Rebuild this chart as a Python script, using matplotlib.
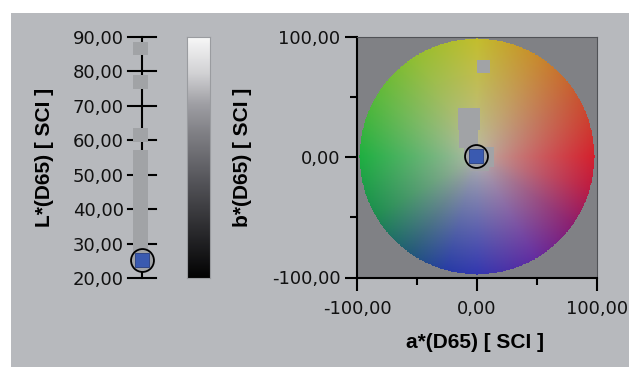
import matplotlib
matplotlib.use('Agg')
import matplotlib.pyplot as plt
import numpy as np
from matplotlib.colors import LinearSegmentedColormap
from matplotlib.patches import Rectangle

W, H = 629, 367

# data
L_ticks = [20, 30, 40, 50, 60, 70, 80, 90]
L_ticklabels = ['20,00', '30,00', '40,00', '50,00', '60,00', '70,00', '80,00', '90,00']
L_bars = [(84.7, 88.5), (74.9, 79.0), (59.5, 63.6), (27.3, 57.2)]
L_sample = 25.2

ab_ticks = [-100, -50, 0, 50, 100]
ab_ticklabels = ['-100,00', '', '0,00', '', '100,00']
wheel_radius = 98
# older samples on the a*b* plane (a0, a1, b0, b1)
ab_patches = [(0, 11, 70, 81), (-16, 2.5, 23, 41), (-15, 0.5, 8, 23),
              (-11, 1, -2, 8), (6, 14, -8, 9), (-6, 10, -11, -4)]
a_sample = -1
b_sample = 1.5

# hue anchors (deg from +a*) and rgb at the rim
hue_deg = [0, 30, 60, 90, 120, 150, 180, 210, 235, 255, 270, 300, 325, 345]
hue_rgb = [(212, 32, 45), (200, 85, 50), (200, 140, 45), (195, 190, 45),
           (150, 190, 50), (90, 185, 60), (30, 175, 65), (30, 140, 80),
           (35, 90, 120), (40, 60, 165), (50, 55, 175), (100, 45, 160),
           (140, 30, 110), (190, 28, 65)]
center_rgb = (186, 186, 174)

bg = '#b7b9bd'
bar_gray = '#a1a3a6'
blue = '#3a5ab0'

plt.rcParams['font.family'] = 'DejaVu Sans'

fig = plt.figure(figsize=(W / 100, H / 100), dpi=100, facecolor='white')
fig.patches.append(Rectangle((11 / W, 0), 1 - 11 / W, (H - 13) / H,
                             transform=fig.transFigure, facecolor=bg,
                             edgecolor='none', zorder=-10))


def box(x0, x1, y0, y1):
    return [x0 / W, (H - y1) / H, (x1 - x0) / W, (y1 - y0) / H]


# ---- L* strip ----
axL = fig.add_axes(box(128, 156, 37, 278))
axL.set_facecolor('none')
axL.set_xlim(-1, 1)
axL.set_ylim(20, 90)
for s in axL.spines.values():
    s.set_visible(False)
axL.set_xticks([])
axL.set_yticks(L_ticks)
axL.set_yticklabels(L_ticklabels, fontsize=13, color='#111111')
axL.tick_params(axis='y', length=0, pad=3)
axL.plot([0, 0], [20, 90], color='black', lw=1.5, zorder=1, clip_on=False)
for t in L_ticks:
    axL.plot([-1, 1], [t, t], color='black', lw=1.5, zorder=1, clip_on=False)
for lo, hi in L_bars:
    axL.add_patch(Rectangle((-0.65, lo), 1.1, hi - lo, facecolor=bar_gray,
                            edgecolor='none', zorder=2))
axL.plot([0], [L_sample], 'o', ms=16.5, mfc=bar_gray, mec='black', mew=1.3,
         zorder=3, clip_on=False)
axL.plot([0], [L_sample], 's', ms=10, mfc=blue, mec='#2a3f80', mew=0.6,
         zorder=4, clip_on=False)
fig.text(45 / W, 1 - 157 / H, 'L*(D65) [ SCI ]', rotation=90, ha='center',
         va='center', fontsize=15, fontweight='bold', family='Liberation Sans')

# ---- grey scale bar ----
axC = fig.add_axes(box(187, 210, 37, 278))
gray_cmap = LinearSegmentedColormap.from_list(
    'lgray', [(0, (0.01, 0.01, 0.01)), (0.15, (0.13, 0.13, 0.14)),
              (0.4, (0.33, 0.33, 0.35)), (0.6, (0.5, 0.5, 0.52)),
              (0.72, (0.62, 0.62, 0.64)), (0.85, (0.82, 0.82, 0.83)),
              (1.0, (0.97, 0.97, 0.97))])
axC.imshow(np.linspace(0, 1, 256)[:, None], aspect='auto', origin='lower',
           cmap=gray_cmap, extent=[0, 1, 0, 1])
axC.set_xticks([])
axC.set_yticks([])
for s in axC.spines.values():
    s.set_color('#9a9ca0')
    s.set_linewidth(0.8)

# ---- a*b* plane ----
ax = fig.add_axes(box(357, 597, 37, 278))
ax.set_facecolor('#808185')
ax.set_xlim(-100, 100)
ax.set_ylim(-100, 100)

n = 400
g = np.linspace(-100, 100, n)
A, B = np.meshgrid(g, g)
r = np.hypot(A, B)
ang = np.degrees(np.arctan2(B, A)) % 360
hd = np.array(hue_deg + [360])
hc = np.array(hue_rgb + [hue_rgb[0]], dtype=float)
rim = np.stack([np.interp(ang, hd, hc[:, k]) for k in range(3)], axis=-1)
s = np.clip(r / wheel_radius, 0, 1)[..., None] ** 0.8
img = (np.array(center_rgb) * (1 - s) + rim * s) / 255
alpha = (r <= wheel_radius).astype(float)[..., None]
ax.imshow(np.concatenate([img, alpha], axis=-1), origin='lower',
          extent=[-100, 100, -100, 100], interpolation='nearest', zorder=1)

for a0, a1, b0, b1 in ab_patches:
    ax.add_patch(Rectangle((a0, b0), a1 - a0, b1 - b0, facecolor=bar_gray,
                           edgecolor='none', zorder=2))
ax.plot([a_sample], [b_sample], 'o', ms=16.5, mfc=bar_gray, mec='black',
        mew=1.3, zorder=3)
ax.plot([a_sample], [b_sample], 's', ms=10, mfc=blue, mec='#2a3f80',
        mew=0.6, zorder=4)

ax.set_xticks(ab_ticks)
ax.set_xticklabels(ab_ticklabels, fontsize=13, color='#111111')
ax.set_yticks(ab_ticks)
ax.set_yticklabels(ab_ticklabels, fontsize=13, color='#111111')
ax.tick_params(length=9, width=1.5, pad=3)
ax.tick_params(axis='x', pad=7)
for t in ax.xaxis.get_major_ticks()[1::2]:
    t.tick1line.set_markersize(5)
for t in ax.yaxis.get_major_ticks()[1::2]:
    t.tick1line.set_markersize(5)
ax.spines['left'].set_linewidth(1.5)
ax.spines['bottom'].set_linewidth(1.5)
ax.spines['top'].set_color('#505256')
ax.spines['right'].set_color('#505256')

fig.text(243 / W, 1 - 157 / H, 'b*(D65) [ SCI ]', rotation=90, ha='center',
         va='center', fontsize=15, fontweight='bold', family='Liberation Sans')
fig.text(475 / W, 1 - 343 / H, 'a*(D65) [ SCI ]', ha='center', va='center',
         fontsize=15, fontweight='bold', family='Liberation Sans')

fig.savefig('out.png', dpi=100, facecolor=fig.get_facecolor())
